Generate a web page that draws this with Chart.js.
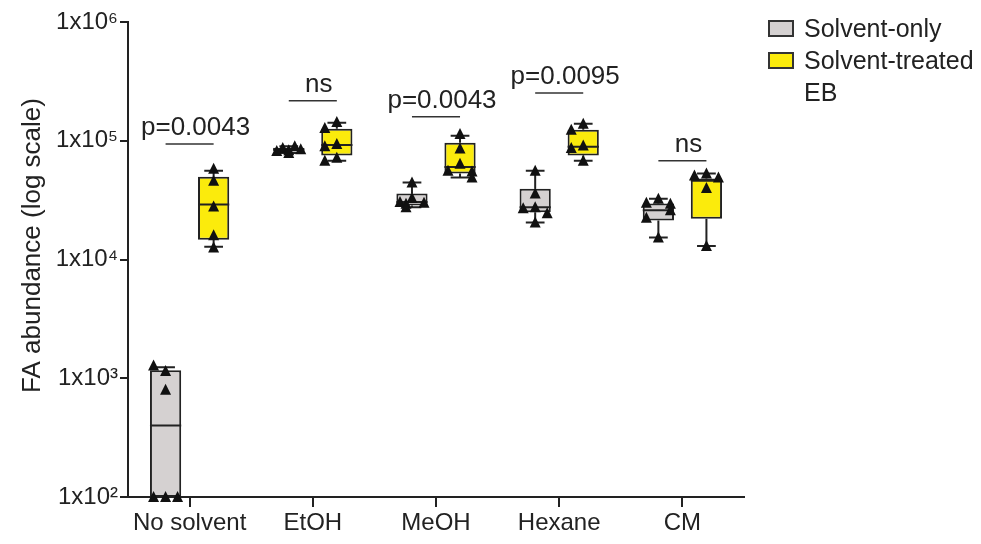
<!DOCTYPE html>
<html lang="en">
<head>
<meta charset="UTF-8">
<title>FA abundance</title>
<style>
    body { margin: 0; background: #fff; font-family: 'Liberation Sans', Arial, sans-serif; }
    .wrap { position: relative; width: 981px; height: 544px; }
    .chart-legend { position: absolute; left: 768px; top: 12px; color: #222; font-size: 25px; line-height: 32px; }
    .legend-item { display: flex; align-items: flex-start; }
    .legend-color { display: inline-block; width: 22px; height: 13px; border: 2px solid #333; margin-top: 8px; margin-right: 10px; }
</style>
</head>
<body>
<div class="wrap">
    <canvas id="myChart" width="981" height="544"></canvas>
    <div class="chart-legend" id="div_legenda"></div>
</div>

<script src="https://cdn.jsdelivr.net/npm/chart.js"></script>
<script>
    var categories = ['No solvent', 'EtOH', 'MeOH', 'Hexane', 'CM'];
    var seriesNames = ['Solvent-only', 'Solvent-treated EB'];
    var legendNames = ['Solvent-only', 'Solvent-treated<br>EB'];
    var seriesColors = ['#d5d1d1', '#fbeb0c'];
    var yTitle = 'FA abundance (log scale)';

    var tickValues = [1e2, 1e3, 1e4, 1e5, 1e6];
    var tickLabels = ['1x10²', '1x10³', '1x10⁴', '1x10⁵', '1x10⁶'];

    // Solvent-only: box stats per group
    var onlyMin = [100, 79000, 27500, 20500, 15300];
    var onlyQ1 = [100, 81500, 28500, 25000, 21300];
    var onlyMedian = [400, 84500, 30500, 27500, 26000];
    var onlyQ3 = [1170, 87500, 36000, 39500, 29600];
    var onlyMax = [1240, 90000, 44500, 56000, 32500];
    var onlyPoints = [
        [100, 100, 100, 800, 1150, 1280],
        [79000, 82000, 85000, 87000, 90000, 83000],
        [44500, 33000, 30500, 30000, 29500, 27500],
        [56000, 36000, 27500, 27000, 24500, 20500],
        [32500, 30000, 29500, 26000, 22500, 15300]
    ];

    // Solvent-treated EB: box stats per group
    var treatedMin = [12800, 68000, 49000, 68000, 13000];
    var treatedQ1 = [14700, 75000, 53000, 75000, 22000];
    var treatedMedian = [29000, 92000, 60000, 89000, 46000];
    var treatedQ3 = [49800, 126000, 96000, 124000, 48000];
    var treatedMax = [56000, 142000, 110000, 139000, 53000];
    var treatedPoints = [
        [58000, 46000, 28000, 16000, 12600],
        [144000, 128000, 94000, 90000, 72000, 68000],
        [114000, 86000, 64000, 56000, 55000, 49000],
        [139000, 124000, 91000, 87000, 68000],
        [53000, 51000, 49000, 40000, 13000]
    ];

    var sigLabels = ['p=0.0043', 'ns', 'p=0.0043', 'p=0.0095', 'ns'];
    var sigHeights = [94000, 217000, 159000, 253000, 68000];

    var fontFamily = "'Liberation Sans', Arial, sans-serif";
    var ink = '#222';

    var boxExtras = {
        id: 'boxExtras',
        afterDatasetsDraw: function (chart) {
            var ctx = chart.ctx;
            var y = chart.scales.y;
            ctx.save();
            ctx.strokeStyle = ink;
            ctx.fillStyle = '#111';
            chart.data.datasets.forEach(function (ds, d) {
                var meta = chart.getDatasetMeta(d);
                meta.data.forEach(function (bar, i) {
                    var half = bar.width / 2;
                    var cap = bar.width * 0.3;
                    var yMin = y.getPixelForValue(ds.stats.min[i]);
                    var yQ1 = y.getPixelForValue(ds.stats.q1[i]);
                    var yMed = y.getPixelForValue(ds.stats.median[i]);
                    var yQ3 = y.getPixelForValue(ds.stats.q3[i]);
                    var yMax = y.getPixelForValue(ds.stats.max[i]);

                    ctx.lineWidth = 2;
                    ctx.beginPath();
                    ctx.moveTo(bar.x, yQ3); ctx.lineTo(bar.x, yMax);
                    ctx.moveTo(bar.x - cap, yMax); ctx.lineTo(bar.x + cap, yMax);
                    ctx.moveTo(bar.x, yQ1); ctx.lineTo(bar.x, yMin);
                    ctx.moveTo(bar.x - cap, yMin); ctx.lineTo(bar.x + cap, yMin);
                    ctx.moveTo(bar.x - half, yMed); ctx.lineTo(bar.x + half, yMed);
                    ctx.stroke();

                    // points, spread sideways where they overlap
                    var placed = [];
                    ds.stats.points[i].forEach(function (v) {
                        var py = y.getPixelForValue(v);
                        var n = placed.filter(function (p) { return Math.abs(p - py) < 9; }).length;
                        var off = [0, -12, 12, -6, 6][n % 5];
                        placed.push(py);
                        var px = bar.x + off;
                        ctx.beginPath();
                        ctx.moveTo(px, py - 6);
                        ctx.lineTo(px + 5.5, py + 5);
                        ctx.lineTo(px - 5.5, py + 5);
                        ctx.closePath();
                        ctx.fill();
                    });
                });
            });

            // significance bars
            var m0 = chart.getDatasetMeta(0).data;
            var m1 = chart.getDatasetMeta(1).data;
            ctx.lineWidth = 1.5;
            ctx.strokeStyle = '#333';
            ctx.fillStyle = ink;
            ctx.font = '26px ' + fontFamily;
            ctx.textAlign = 'center';
            ctx.textBaseline = 'alphabetic';
            for (var i = 0; i < categories.length; i++) {
                var ly = y.getPixelForValue(sigHeights[i]);
                ctx.beginPath();
                ctx.moveTo(m0[i].x, ly);
                ctx.lineTo(m1[i].x, ly);
                ctx.stroke();
                ctx.fillText(sigLabels[i], (m0[i].x + m1[i].x) / 2 + 6, ly - 9);
            }

            // y axis title, a little above the axis middle as in the figure
            ctx.translate(33, (y.top + y.bottom) / 2 - 14);
            ctx.rotate(-Math.PI / 2);
            ctx.font = '26px ' + fontFamily;
            ctx.textBaseline = 'middle';
            ctx.fillText(yTitle, 0, 0);
            ctx.restore();
        }
    };

    function boxData(q1, q3) {
        var out = [];
        for (var i = 0; i < q1.length; i++) out.push([q1[i], q3[i]]);
        return out;
    }

    var ctx = document.getElementById('myChart').getContext('2d');
    new Chart(ctx, {
        type: 'bar',
        data: {
            labels: categories,
            datasets: [{
                label: seriesNames[0],
                data: boxData(onlyQ1, onlyQ3),
                backgroundColor: seriesColors[0],
                borderColor: ink,
                borderWidth: 2,
                borderSkipped: false,
                barPercentage: 0.65,
                categoryPercentage: 0.78,
                stats: { min: onlyMin, q1: onlyQ1, median: onlyMedian, q3: onlyQ3, max: onlyMax, points: onlyPoints }
            }, {
                label: seriesNames[1],
                data: boxData(treatedQ1, treatedQ3),
                backgroundColor: seriesColors[1],
                borderColor: ink,
                borderWidth: 2,
                borderSkipped: false,
                barPercentage: 0.65,
                categoryPercentage: 0.78,
                stats: { min: treatedMin, q1: treatedQ1, median: treatedMedian, q3: treatedQ3, max: treatedMax, points: treatedPoints }
            }]
        },
        options: {
            responsive: false,
            animation: false,
            devicePixelRatio: 1,
            layout: { padding: { top: 22, right: 237, left: 0, bottom: 0 } },
            plugins: {
                legend: { display: false },
                tooltip: { enabled: false }
            },
            scales: {
                x: {
                    offset: true,
                    afterFit: function (s) { s.height = 47; },
                    ticks: { font: { size: 24, family: fontFamily }, color: ink, padding: 2, maxRotation: 0, autoSkip: false },
                    grid: { offset: false, drawOnChartArea: false, tickLength: 10, color: ink, lineWidth: 2 },
                    border: { color: ink, width: 2 }
                },
                y: {
                    type: 'logarithmic',
                    min: 100,
                    max: 1e6,
                    afterBuildTicks: function (s) {
                        s.ticks = tickValues.map(function (v) { return { value: v }; });
                    },
                    afterFit: function (s) { s.width = 128; },
                    ticks: {
                        callback: function (v, idx) { return tickLabels[idx]; },
                        font: { size: 24, family: fontFamily },
                        color: ink,
                        padding: 2
                    },
                    grid: { drawOnChartArea: false, tickLength: 8, color: ink, lineWidth: 2 },
                    border: { color: ink, width: 2 }
                }
            }
        },
        plugins: [boxExtras]
    });

    var chartLegend = document.getElementById('div_legenda');
    for (var i = 0; i < legendNames.length; i++) {
        var legendItem = document.createElement('div');
        legendItem.classList.add('legend-item');
        var legendColor = document.createElement('span');
        legendColor.classList.add('legend-color');
        legendColor.style.backgroundColor = seriesColors[i];
        var legendText = document.createElement('span');
        legendText.innerHTML = legendNames[i];
        legendItem.appendChild(legendColor);
        legendItem.appendChild(legendText);
        chartLegend.appendChild(legendItem);
    }
</script>
</body>
</html>
